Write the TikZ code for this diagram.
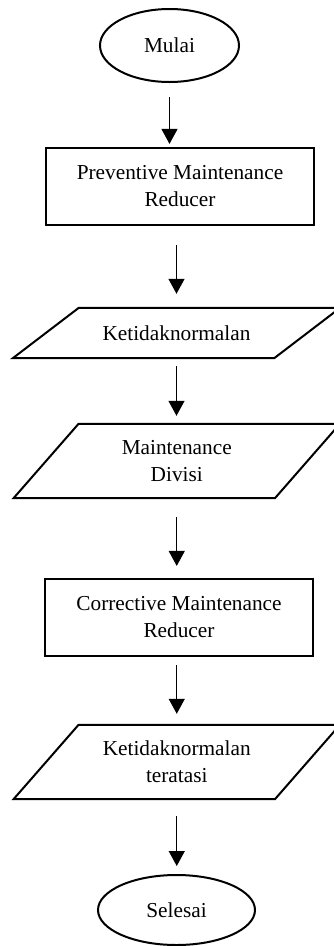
\documentclass[tikz,border=0pt]{standalone}
\usepackage{fontspec}
\setmainfont{Liberation Serif}
\usetikzlibrary{shapes, arrows.meta}

% slanted outline round a plain node (data boxes)
\newcommand{\iooutline}[2]{%
  \draw[ioline] ([xshift=#2]#1.north west) -- ([xshift=#2]#1.north east)
    -- ([xshift=-#2]#1.south east) -- ([xshift=-#2]#1.south west) -- cycle;}

\begin{document}
\begin{tikzpicture}[x=1pt, y=-1pt,
        every node/.style={font=\fontsize{21.3}{27}\selectfont},
        terminal/.style={draw, ellipse, line width=2pt, inner sep=0pt, align=center},
        process/.style={draw, rectangle, line width=2.2pt, minimum width=268pt,
                        minimum height=77pt, align=center},
        iodata/.style={rectangle, minimum width=261pt, inner sep=0pt, align=center},
        ioline/.style={line width=2pt, line join=miter},
        flow/.style={-{Triangle[width=16pt,length=15pt]}, line width=1.3pt}]

        \useasboundingbox (0,0) rectangle (333,946);

        % Start
        \node[terminal, minimum width=139pt, minimum height=73pt] (mulai) at (169.5, 45.5) {Mulai};
        % Preventive step
        \node[process] (prev) at (180, 186.5) {Preventive Maintenance\\Reducer};
        % Abnormality found
        \node[iodata, minimum height=50pt] (abn) at (176.5, 333) {Ketidaknormalan};
        \iooutline{abn}{33pt}
        % Division
        \node[iodata, minimum height=74pt] (div) at (176.75, 461) {Maintenance\\Divisi};
        \iooutline{div}{32.5pt}
        % Corrective step
        \node[process] (corr) at (179, 617.5) {Corrective Maintenance\\Reducer};
        % Abnormality handled
        \node[iodata, minimum height=74pt] (solved) at (176.75, 762) {Ketidaknormalan\\teratasi};
        \iooutline{solved}{32.5pt}
        % End
        \node[terminal, minimum width=157pt, minimum height=70pt] (selesai) at (176.5, 910) {Selesai};

        \draw[flow, shorten <=14pt, shorten >=3pt] (mulai.south) -- (mulai.south |- prev.north);
        \draw[flow, shorten <=19pt, shorten >=14pt] (abn.north |- prev.south) -- (abn.north);
        \draw[flow, shorten <=8pt, shorten >=8pt] (abn.south) -- (abn.south |- div.north);
        \draw[flow, shorten <=19pt, shorten >=12pt] (div.south) -- (div.south |- corr.north);
        \draw[flow, shorten <=8pt, shorten >=11pt] (solved.north |- corr.south) -- (solved.north);
        \draw[flow, shorten <=17pt, shorten >=8pt] (solved.south) -- (solved.south |- selesai.north);
    \end{tikzpicture}
\end{document}
